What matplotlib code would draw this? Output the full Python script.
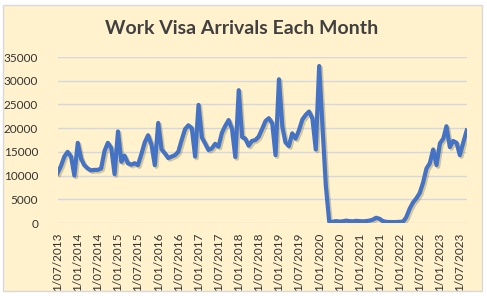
import pandas as pd
import numpy as np
import matplotlib
matplotlib.use("Agg")
import matplotlib.pyplot as plt
import matplotlib.patheffects as pe
from matplotlib.patches import Rectangle

# monthly work visa arrivals, Jul 2013 - Sep 2023
arrivals = [
    10500, 12000, 14000, 15000, 14000, 10000,            # Jul-Dec 2013
    16900, 13500, 12200, 11500, 11100, 11200,            # 2014
    11200, 11500, 15200, 16900, 15800, 10300,
    19300, 12900, 14200, 12600, 12300, 12600,            # 2015
    12200, 14500, 17000, 18500, 16500, 12200,
    21100, 15500, 14700, 13700, 14000, 14300,            # 2016
    15000, 17500, 19800, 20600, 20000, 14000,
    24900, 18000, 16800, 15400, 15700, 16700,            # 2017
    16100, 19000, 20500, 21700, 19800, 13900,
    28000, 18100, 17800, 16300, 17300, 17500,            # 2018
    18200, 19800, 21500, 22100, 21000, 14300,
    30300, 20300, 17000, 16200, 18900, 17800,            # 2019
    19500, 21800, 22800, 23500, 22000, 15500,
    33100, 20000, 8000, 300, 250, 400,                   # 2020
    300, 350, 500, 400, 350, 450,
    400, 350, 400, 500, 700, 1100,                       # 2021
    900, 400, 250, 200, 200, 200,
    250, 300, 1200, 3000, 4300, 5200,                    # 2022
    6300, 8500, 11500, 12600, 15500, 12200,
    16800, 17800, 20400, 16000, 17300, 16900,            # 2023
    14300, 17000, 19500,
]
months = pd.date_range("2013-07-01", periods=len(arrivals), freq="MS")

tick_labels = ["1/07/2013", "1/01/2014", "1/07/2014", "1/01/2015", "1/07/2015",
               "1/01/2016", "1/07/2016", "1/01/2017", "1/07/2017", "1/01/2018",
               "1/07/2018", "1/01/2019", "1/07/2019", "1/01/2020", "1/07/2020",
               "1/01/2021", "1/07/2021", "1/01/2022", "1/07/2022", "1/01/2023",
               "1/07/2023"]
tick_dates = pd.to_datetime(tick_labels, format="%d/%m/%Y")
y_ticks = [0, 5000, 10000, 15000, 20000, 25000, 30000, 35000]

plt.rcParams['font.family'] = ['Lato', 'DejaVu Sans']

fig = plt.figure(figsize=(4.87, 2.96), dpi=100, facecolor='white')
# chart area background with thin border, kept behind the axes
bg = Rectangle((3 / 487, 1 - 291 / 296), 479 / 487, 286 / 296,
               transform=fig.transFigure, facecolor='#FFF2CC',
               edgecolor='#D9D9D9', linewidth=1, zorder=-10)
fig.add_artist(bg)

ax = fig.add_axes([57.5 / 487, 1 - 223 / 296, 409.2 / 487, 166 / 296])
ax.set_facecolor('none')

ax.plot(months, arrivals, color='#4472C4', linewidth=3.0, solid_joinstyle='round',
        path_effects=[pe.SimpleLineShadow(offset=(1.2, -1.2), shadow_color='#7f6f40', alpha=0.35),
                      pe.Normal()], zorder=3)

ax.set_xlim(months[0], months[-1])
ax.set_ylim(0, 35000)
ax.set_yticks(y_ticks)
ax.set_yticklabels([str(v) for v in y_ticks])
ax.set_xticks(tick_dates)
ax.set_xticklabels(tick_labels, rotation=90)
ax.grid(axis='y', color='#D4D6E0', linewidth=1)
ax.set_axisbelow(True)
for s in ax.spines.values():
    s.set_visible(False)
ax.tick_params(length=0, labelsize=8.5, colors='#333333')
ax.tick_params(axis='y', pad=14)
ax.tick_params(axis='x', pad=7)

fig.text(241.7 / 487, 1 - 29 / 296, "Work Visa Arrivals Each Month", ha='center', va='center',
         fontsize=14, fontweight='bold', color='#404040')

fig.savefig("out.png", dpi=100, facecolor='white')
